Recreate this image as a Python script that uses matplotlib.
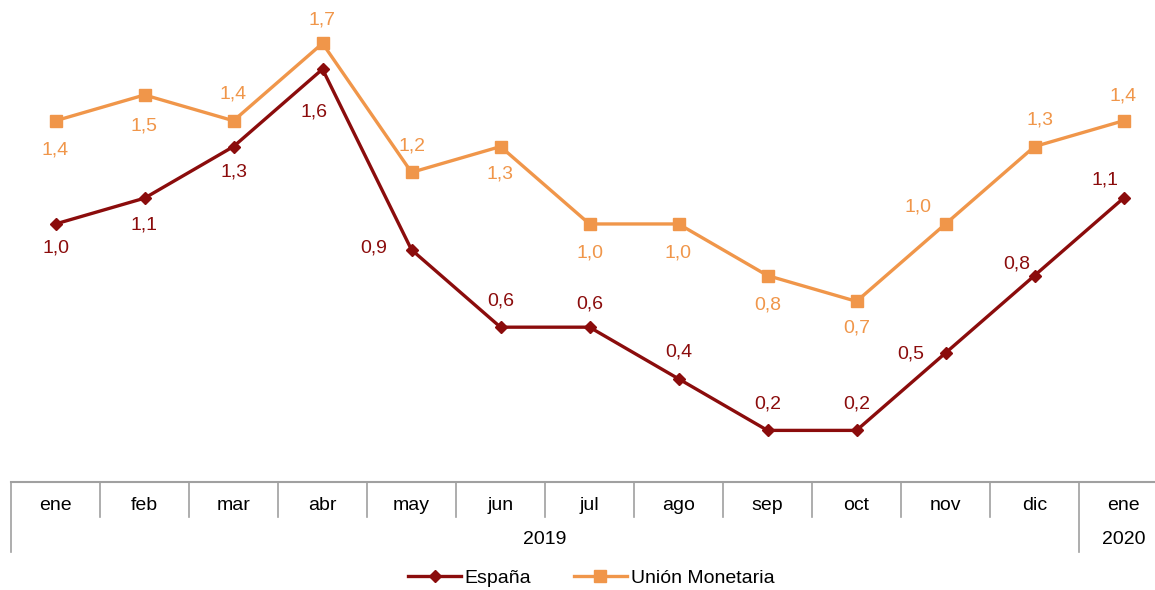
import matplotlib.pyplot as plt

plt.rcParams['font.family'] = ['Liberation Sans', 'DejaVu Sans']

meses = ['ene', 'feb', 'mar', 'abr', 'may', 'jun', 'jul', 'ago', 'sep', 'oct', 'nov', 'dic', 'ene']
anios = ['2019', '2020']
espana = [1.0, 1.1, 1.3, 1.6, 0.9, 0.6, 0.6, 0.4, 0.2, 0.2, 0.5, 0.8, 1.1]
union = [1.4, 1.5, 1.4, 1.7, 1.2, 1.3, 1.0, 1.0, 0.8, 0.7, 1.0, 1.3, 1.4]

# label offsets (points) for each point
off_esp = [(0, -17), (0, -19), (0, -18), (-6, -31), (-27, 1), (0, 19), (0, 17), (0, 19),
           (0, 19), (0, 19), (-25, -1), (-13, 8), (-13, 13)]
off_uni = [(0, -21), (0, -22), (0, 19), (0, 17), (0, 19), (0, -20), (0, -21), (0, -21),
           (0, -21), (0, -19), (-20, 12), (4, 19), (0, 18)]

c_esp = '#8B0C0C'
c_uni = '#F0964A'

fig = plt.figure(figsize=(11.55, 5.90), dpi=100)
ax = fig.add_axes([11 / 1155, 108 / 590, 1157 / 1155, 482 / 590])

x = list(range(len(meses)))
ax.plot(x, espana, color=c_esp, lw=2.4, marker='D', ms=6.5, label='España')
ax.plot(x, union, color=c_uni, lw=2.4, marker='s', ms=8, label='Unión Monetaria')

for xi, v, o in zip(x, espana, off_esp):
    ax.annotate(f'{v:.1f}'.replace('.', ','), (xi, v), xytext=o, textcoords='offset points',
                ha='center', va='center', fontsize=14, color=c_esp)
for xi, v, o in zip(x, union, off_uni):
    ax.annotate(f'{v:.1f}'.replace('.', ','), (xi, v), xytext=o, textcoords='offset points',
                ha='center', va='center', fontsize=14, color=c_uni)

ax.set_xlim(-0.5, 12.5)
ax.set_ylim(0, 1.868)
for s in ['top', 'right', 'left']:
    ax.spines[s].set_visible(False)
ax.spines['bottom'].set_color('#A0A0A0')
ax.spines['bottom'].set_linewidth(1.5)
ax.set_xticks([])
ax.set_yticks([])

tr = ax.get_xaxis_transform()
for i in range(14):
    bottom = -70 / 482 if i in (0, 12) else -35 / 482
    ax.plot([i - 0.5, i - 0.5], [0, bottom], color='#A0A0A0', lw=1.2, transform=tr, clip_on=False)
for xi, m in zip(x, meses):
    ax.text(xi, -23 / 482, m, transform=tr, ha='center', va='center', fontsize=14)
ax.text(5.5, -58 / 482, anios[0], transform=tr, ha='center', va='center', fontsize=14)
ax.text(12, -58 / 482, anios[1], transform=tr, ha='center', va='center', fontsize=14)

fig.legend(loc='lower center', bbox_to_anchor=(0.512, -0.024), ncol=2, frameon=False,
           fontsize=14, handlelength=2.7, columnspacing=2.2, handletextpad=0.2)

fig.savefig('out.png', dpi=100)
